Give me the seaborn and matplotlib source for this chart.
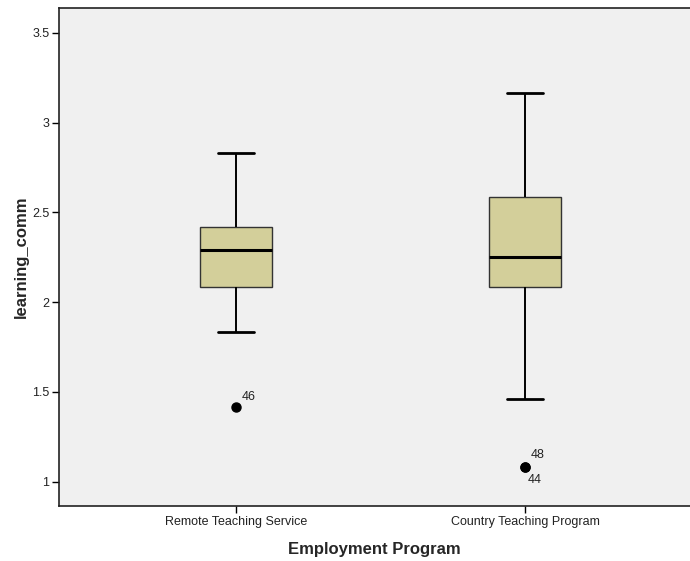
import matplotlib
matplotlib.use("Agg")
import matplotlib.pyplot as plt
from matplotlib.ticker import FormatStrFormatter
import seaborn as sns
import pandas as pd

# Five-number summaries per employment program, plus outliers and their case ids
groups = ["Remote Teaching Service", "Country Teaching Program"]
whisker_low = [1.8333, 1.4583]
q1 = [2.0833, 2.0833]
median = [2.2917, 2.25]
q3 = [2.4167, 2.5833]
whisker_high = [2.8333, 3.1667]
outliers = [[1.4167], [1.0833, 1.0833]]
outlier_ids = [["46"], ["48", "44"]]


def build_sample(lo, a, m, b, hi, outs, k=4):
    # 4k+1 sorted values so that the quartiles land exactly on a, m, b
    return list(outs) + [lo] + [a] * (k - len(outs)) + [m] * k + [b] * (2 * k - 1) + [hi]


rows = []
for i, g in enumerate(groups):
    vals = build_sample(whisker_low[i], q1[i], median[i], q3[i], whisker_high[i], outliers[i])
    rows += [{"Employment Program": g, "learning_comm": v} for v in vals]
df = pd.DataFrame(rows)

sns.set_theme(style="ticks")
plt.rcParams["font.family"] = ["Liberation Sans", "DejaVu Sans"]

fig = plt.figure(figsize=(6.9, 5.61), dpi=100)
ax = fig.add_axes([0.0855, 0.098, 0.9145, 0.8877])
ax.set_facecolor("#f0f0f0")

sns.boxplot(
    data=df, x="Employment Program", y="learning_comm", order=groups,
    width=0.25, color="#d3cf9a", saturation=1, whis=1.5, ax=ax,
    boxprops=dict(edgecolor="#333333", linewidth=1.0),
    medianprops=dict(color="black", linewidth=2.2),
    whiskerprops=dict(color="black", linewidth=1.4),
    capprops=dict(color="black", linewidth=2.0),
    flierprops=dict(marker="o", markerfacecolor="black", markeredgecolor="black",
                    markersize=6.5),
)

# Case-number labels beside the outliers
for i, (vals, ids) in enumerate(zip(outliers, outlier_ids)):
    if len(ids) == 1:
        ax.annotate(ids[0], (i, vals[0]), xytext=(4, 3), textcoords="offset points",
                    fontsize=9, color="#222222", ha="left", va="bottom")
    else:
        ax.annotate(ids[0], (i, vals[0]), xytext=(4, 4), textcoords="offset points",
                    fontsize=9, color="#222222", ha="left", va="bottom")
        ax.annotate(ids[1], (i, vals[1]), xytext=(2, -5), textcoords="offset points",
                    fontsize=9, color="#222222", ha="left", va="top")

ax.set_xlim(-0.612, 1.571)
ax.set_ylim(0.8634, 3.639)
ax.set_yticks([1, 1.5, 2, 2.5, 3, 3.5])
ax.yaxis.set_major_formatter(FormatStrFormatter("%g"))

for side in ["left", "top", "bottom"]:
    ax.spines[side].set_color("#222222")
    ax.spines[side].set_linewidth(1.2)
ax.spines["right"].set_visible(False)

ax.tick_params(axis="both", direction="out", length=5, width=1.0, color="black",
               labelsize=9, labelcolor="#222222", pad=2)

ax.set_xlabel("Employment Program", fontsize=12, fontweight="bold", labelpad=10)
ax.set_ylabel("learning_comm", fontsize=12, fontweight="bold", labelpad=2)

fig.savefig("out.png", dpi=100, facecolor="white")
